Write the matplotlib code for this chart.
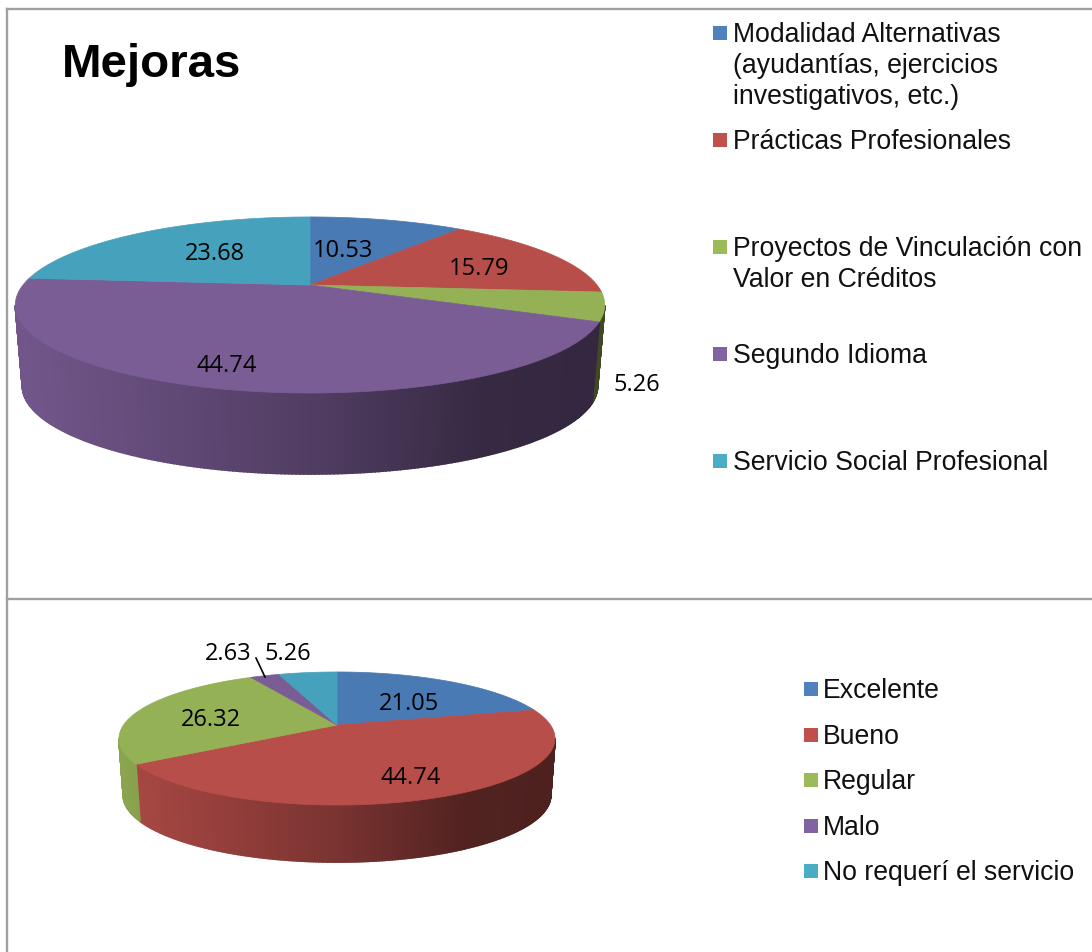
import numpy as np
import matplotlib
matplotlib.use("Agg")
import matplotlib.pyplot as plt

# Data
mejoras_labels = ["Modalidad Alternativas\n(ayudantías, ejercicios\ninvestigativos, etc.)",
                  "Prácticas Profesionales",
                  "Proyectos de Vinculación con\nValor en Créditos",
                  "Segundo Idioma",
                  "Servicio Social Profesional"]
mejoras_values = [10.53, 15.79, 5.26, 44.74, 23.68]

servicio_labels = ["Excelente", "Bueno", "Regular", "Malo", "No requerí el servicio"]
servicio_values = [21.05, 44.74, 26.32, 2.63, 5.26]

top_colors = ["#4A7AB3", "#B84E4A", "#95B155", "#7B5D96", "#46A2BC"]
legend_colors = ["#4F81BD", "#C0504D", "#9BBB59", "#8064A2", "#4BACC6"]
grey = "#A0A0A0"

arial = "Liberation Sans"
label_font = "Open Sans"


def project(theta, cx, cy, a, b, k):
    # perspective view of the unit circle, theta clockwise from 12 o'clock
    u = np.sin(theta)
    v = np.cos(theta)
    d = 1 + k * v
    return cx + a * u / d, cy - b * v / d


def shade(color, x, x0, x1):
    t = np.clip((x - x0) / (x1 - x0), 0, 1)
    f = np.interp(t, [0, 0.5, 0.8, 1], [0.93, 0.66, 0.44, 0.42])
    return tuple(c * f for c in matplotlib.colors.to_rgb(color))


def pie3d(ax, values, cx, cy, a, b, k, depth, xscale):
    edges = np.radians(np.concatenate([[0], np.cumsum(values)]) * 360 / sum(values))
    rx = a / np.sqrt(1 - k ** 2)

    # side wall, thin strips so it can darken to the right
    for i, val in enumerate(values):
        n = max(int(val * 6), 4)
        th = np.linspace(edges[i], edges[i + 1], n + 1)
        x, y = project(th, cx, cy, a, b, k)
        xb = cx + (x - cx) * xscale
        yb = y + depth
        for j in range(n):
            # only the part in front of the widest point shows
            if np.cos((th[j] + th[j + 1]) / 2) > -k:
                continue
            col = shade(top_colors[i], (x[j] + x[j + 1]) / 2, cx - rx, cx + rx)
            ax.fill([x[j], x[j + 1], xb[j + 1], xb[j]],
                    [y[j], y[j + 1], yb[j + 1], yb[j]],
                    color=col, lw=1.2, zorder=2)

    # top face
    for i, val in enumerate(values):
        th = np.linspace(edges[i], edges[i + 1], 200)
        x, y = project(th, cx, cy, a, b, k)
        ax.fill(np.r_[cx, x], np.r_[cy, y], color=top_colors[i], lw=0.5, zorder=3)


def side_legend(ax, labels, ys, sq_x, txt_x):
    for lab, y, col in zip(labels, ys, legend_colors):
        ax.add_patch(plt.Rectangle((sq_x, y - 7), 14, 14, color=col, lw=0, zorder=4))
        # y is the middle of the first line
        ax.text(txt_x, y - 11, lab, fontsize=19.2, family=arial, color="#111111",
                va="top", ha="left", linespacing=1.24, zorder=5)


fig = plt.figure(figsize=(10.92, 9.52), dpi=100)
ax = fig.add_axes([0, 0, 1, 1])
ax.set_xlim(0, 1092)
ax.set_ylim(952, 0)
ax.axis("off")

# frame lines
ax.plot([7, 7], [9, 952], color=grey, lw=1.7, zorder=1)
ax.plot([7, 1092], [9, 9], color=grey, lw=1.7, zorder=1)
ax.plot([7, 1092], [599, 599], color=grey, lw=1.7, zorder=1)

pie3d(ax, mejoras_values, 310, 285, 287, 83.5, 0.227, 81, 0.976)
pie3d(ax, servicio_values, 337, 725, 213.5, 63.8, 0.203, 57, 0.98)

ax.text(62, 65, "Mejoras", fontsize=34.2, fontweight="bold", family=arial,
        color="black", va="center", ha="left")

side_legend(ax, mejoras_labels, [33, 140, 247, 354, 461], 713, 733)
side_legend(ax, servicio_labels, [689, 735, 780, 826, 871], 804, 823)

# value labels
top_pos = [(343, 251), (479, 269), (637, 385), (227, 366), (215, 254)]
for val, (x, y) in zip(mejoras_values, top_pos):
    ax.text(x, y, f"{val:.2f}", fontsize=17, family=label_font, color="black",
            ha="center", va="center", zorder=6)

low_pos = [(409, 704), (411, 778), (211, 720), (228, 654), (288, 654)]
for val, (x, y) in zip(servicio_values, low_pos):
    ax.text(x, y, f"{val:.2f}", fontsize=17, family=label_font, color="black",
            ha="center", va="center", zorder=6)

# leader for the small slice
ax.plot([256, 265], [658, 677], color="black", lw=1.2, zorder=6)

fig.savefig("out.png", dpi=100)
